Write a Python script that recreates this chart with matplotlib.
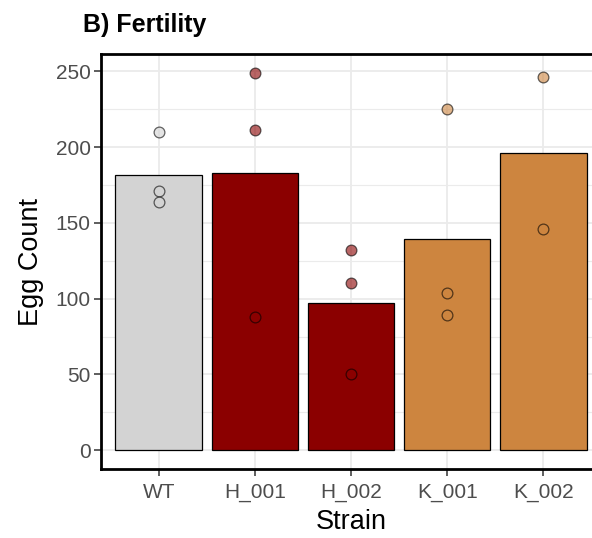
import matplotlib
matplotlib.use("Agg")
import matplotlib.pyplot as plt
import numpy as np
from matplotlib.ticker import MultipleLocator

plt.rcParams['font.family'] = ['Liberation Sans', 'DejaVu Sans']

strains = ["WT", "H_001", "H_002", "K_001", "K_002"]
bar_colors = ["#D3D3D3", "#8B0000", "#8B0000", "#CD853F", "#CD853F"]
egg_counts = {
    "WT": [210, 171, 164],
    "H_001": [249, 211, 88],
    "H_002": [132, 110, 50],
    "K_001": [225, 104, 89],
    "K_002": [246, 146],
}
yticks = [0, 50, 100, 150, 200, 250]

means = [np.mean(egg_counts[s]) for s in strains]

fig = plt.figure(figsize=(5.92, 5.38), dpi=100)
ax = fig.add_axes([101/592, 1 - 469/538, 500/592, 415/538])

x = np.arange(len(strains))
ax.bar(x, means, width=0.9, color=bar_colors, edgecolor="black", linewidth=0.9, zorder=2)
for i, s in enumerate(strains):
    vals = egg_counts[s]
    ax.scatter([i]*len(vals), vals, s=60, facecolor=bar_colors[i], edgecolor="black",
               alpha=0.6, linewidth=0.9, zorder=3)

ax.set_xlim(-0.6, 4.6)
ax.set_ylim(-12.45, 261.45)
ax.set_xticks(x)
ax.set_xticklabels(strains)
ax.set_yticks(yticks)
ax.yaxis.set_minor_locator(MultipleLocator(25))
ax.grid(True, which="major", color="#EBEBEB", linewidth=1.3, zorder=0)
ax.grid(True, which="minor", axis="y", color="#EBEBEB", linewidth=0.8, zorder=0)
ax.set_axisbelow(True)
ax.tick_params(axis="both", which="major", length=5, width=1.1, color="#333333",
               labelsize=15, labelcolor="#4D4D4D", pad=2.5)
ax.tick_params(axis="x", which="major", pad=5)
ax.tick_params(axis="both", which="minor", length=0)
for side in ["left", "bottom", "top", "right"]:
    ax.spines[side].set_color("black")
    ax.spines[side].set_linewidth(2.0)

ax.set_xlabel("Strain", fontsize=19.5, labelpad=5)
ax.set_ylabel("Egg Count", fontsize=19.5, labelpad=8)
fig.text(83/592, 1 - 25/538, "B) Fertility", fontsize=18, fontweight="bold", va="center", ha="left")

fig.savefig("out.png", dpi=100)
